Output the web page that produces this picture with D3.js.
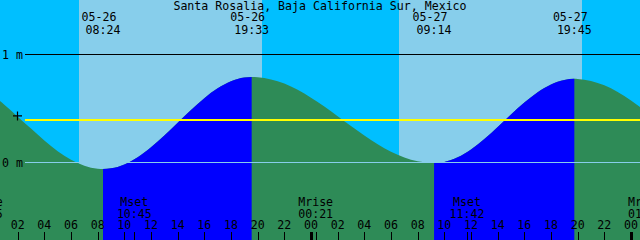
<!DOCTYPE html>
<html>
<head>
<meta charset="utf-8">
<script src="https://cdnjs.cloudflare.com/ajax/libs/d3/7.8.5/d3.min.js"></script>
<style>
  html, body { margin: 0; padding: 0; background: #00bfff; }
  #chart { width: 640px; height: 240px; }
  text { font-family: "DejaVu Sans Mono", monospace; font-size: 11.6px; fill: #000; }
</style>
</head>
<body>
<div id="chart"></div>
<script>
// hours counted from 05-26 00:00
var tideHours = [-3.6, 0, 1, 2, 3, 4, 5, 6, 7, 8, 8.4, 9, 10, 11, 12, 13, 14, 15, 16, 17, 18, 19, 19.55,
  20, 21, 22, 23, 24, 25, 26, 27, 28, 29, 30, 31, 32, 33, 33.23, 34, 35, 36, 37, 38, 39, 40, 41, 42, 43, 43.75,
  44, 45, 46, 47, 48, 49];
var tideHeights = [0.82, 0.63, 0.53, 0.42, 0.31, 0.20, 0.10, 0.02, -0.035, -0.063, -0.065, -0.059, -0.022,
  0.044, 0.136, 0.246, 0.364, 0.482, 0.591, 0.682, 0.747, 0.782, 0.787,
  0.785, 0.765, 0.726, 0.668, 0.596, 0.513, 0.424, 0.333, 0.245, 0.164, 0.095, 0.042, 0.006, -0.009, -0.01,
  0.0, 0.043, 0.116, 0.212, 0.323, 0.439, 0.550, 0.646, 0.718, 0.760, 0.77,
  0.769, 0.751, 0.710, 0.648, 0.569, 0.479];

// high / low tide labels
var extremeHours = [8.4, 19.55, 33.23, 43.75];
var extremeDates = ['05-26', '05-26', '05-27', '05-27'];
var extremeTimes = ['08:24', '19:33', '09:14', '19:45'];

// rising tide (low -> high)
var risingStart = [8.4, 33.23];
var risingEnd = [19.55, 43.75];

var sunriseHours = [6.6, 30.6];
var sunsetHours = [20.33, 44.33];

var moonHours = [-0.42, 10.75, 24.35, 35.7, 49.08];
var moonNames = ['Mrise', 'Mset', 'Mrise', 'Mset', 'Mrise'];
var moonTimes = ['23:35', '10:45', '00:21', '11:42', '01:05'];

var tickHours = d3.range(0, 50, 2);
var levelTicks = [0, 1];
var meanLevel = 0.39;
var title = 'Santa Rosalia, Baja California Sur, Mexico';

var width = 640, height = 240;

var x = d3.scaleLinear().domain([0.675, 48.675]).range([0, width]);
var y = d3.scaleLinear().domain([0, 1]).range([162, 54]);

var svg = d3.select('#chart')
    .append('svg')
        .attr('width', width)
        .attr('height', height);

// night / day
svg.append('rect')
    .attr('width', width)
    .attr('height', height)
    .attr('fill', '#00bfff');
svg.selectAll('rect.day')
    .data(sunriseHours)
    .enter().append('rect')
        .attr('class', 'day')
        .attr('x', function(d) { return x(d); })
        .attr('width', function(d, i) { return x(sunsetHours[i]) - x(d); })
        .attr('y', 0)
        .attr('height', height)
        .attr('fill', '#87ceeb')
        .attr('shape-rendering', 'crispEdges');

// water
var tide = tideHours.map(function(h, i) { return [h, tideHeights[i]]; });
var area = d3.area()
    .x(function(d) { return x(d[0]); })
    .y0(height)
    .y1(function(d) { return y(d[1]); })
    .curve(d3.curveMonotoneX);

var clip = svg.append('clipPath').attr('id', 'rising');
clip.selectAll('rect')
    .data(risingStart)
    .enter().append('rect')
        .attr('x', function(d) { return x(d); })
        .attr('width', function(d, i) { return x(risingEnd[i]) - x(d); })
        .attr('y', 0)
        .attr('height', height);

svg.append('path')
    .datum(tide)
    .attr('d', area)
    .attr('fill', '#2e8b57');
svg.append('path')
    .datum(tide)
    .attr('d', area)
    .attr('fill', '#0000ff')
    .attr('clip-path', 'url(#rising)');

// level lines
svg.append('line')
    .attr('x1', 25).attr('x2', width)
    .attr('y1', Math.round(y(1)) + 0.5).attr('y2', Math.round(y(1)) + 0.5)
    .attr('stroke', '#000');
svg.append('line')
    .attr('x1', 25).attr('x2', width)
    .attr('y1', Math.round(y(0)) + 0.5).attr('y2', Math.round(y(0)) + 0.5)
    .attr('stroke', '#87ceeb');
svg.append('line')
    .attr('x1', 25).attr('x2', width)
    .attr('y1', Math.round(y(meanLevel))).attr('y2', Math.round(y(meanLevel)))
    .attr('stroke', '#ffff00')
    .attr('stroke-width', 2);

svg.selectAll('text.level')
    .data(levelTicks)
    .enter().append('text')
        .attr('class', 'level')
        .attr('x', 2)
        .attr('y', function(d) { return y(d) + 4.5; })
        .text(function(d) { return d + ' m'; });

// mean level mark
var plusY = y(meanLevel) - 4;
svg.append('path')
    .attr('d', 'M13,' + plusY + 'H22M17.5,' + (plusY - 4.5) + 'V' + (plusY + 4.5))
    .attr('stroke', '#000')
    .attr('stroke-width', 1.2);

// title
svg.append('text')
    .attr('x', width / 2)
    .attr('y', 9.5)
    .style('text-anchor', 'middle')
    .text(title);

// tide times
var extremes = svg.append('g').attr('class', 'extremes');
extremes.selectAll('text.date')
    .data(extremeHours)
    .enter().append('text')
        .attr('class', 'date')
        .attr('x', function(d) { return x(d) - 4; })
        .attr('y', 21)
        .style('text-anchor', 'middle')
        .text(function(d, i) { return extremeDates[i]; });
extremes.selectAll('text.time')
    .data(extremeHours)
    .enter().append('text')
        .attr('class', 'time')
        .attr('x', function(d) { return x(d); })
        .attr('y', 33.5)
        .style('text-anchor', 'middle')
        .text(function(d, i) { return extremeTimes[i]; });

// moon events
var moon = svg.append('g').attr('class', 'moon');
moon.selectAll('text.name')
    .data(moonHours)
    .enter().append('text')
        .attr('class', 'name')
        .attr('x', function(d) { return x(d); })
        .attr('y', 206)
        .style('text-anchor', 'middle')
        .text(function(d, i) { return moonNames[i]; });
moon.selectAll('text.time')
    .data(moonHours)
    .enter().append('text')
        .attr('class', 'time')
        .attr('x', function(d) { return x(d); })
        .attr('y', 217.5)
        .style('text-anchor', 'middle')
        .text(function(d, i) { return moonTimes[i]; });
moon.selectAll('line')
    .data(moonHours)
    .enter().append('line')
        .attr('x1', function(d) { return Math.round(x(d)) + 0.5; })
        .attr('x2', function(d) { return Math.round(x(d)) + 0.5; })
        .attr('y1', 232).attr('y2', height)
        .attr('stroke', '#000');

// time axis
var axis = svg.append('g').attr('class', 'axis');
axis.selectAll('line')
    .data(tickHours)
    .enter().append('line')
        .attr('x1', function(d) { return Math.round(x(d)) + 0.5; })
        .attr('x2', function(d) { return Math.round(x(d)) + 0.5; })
        .attr('y1', 232).attr('y2', height)
        .attr('stroke', '#000')
        .attr('stroke-width', function(d) { return d % 24 == 0 ? 3 : 1; });
axis.selectAll('text')
    .data(tickHours)
    .enter().append('text')
        .attr('x', function(d) { return x(d); })
        .attr('y', 229)
        .style('text-anchor', 'middle')
        .text(function(d) { return d3.format('02d')(d % 24); });
</script>
</body>
</html>
